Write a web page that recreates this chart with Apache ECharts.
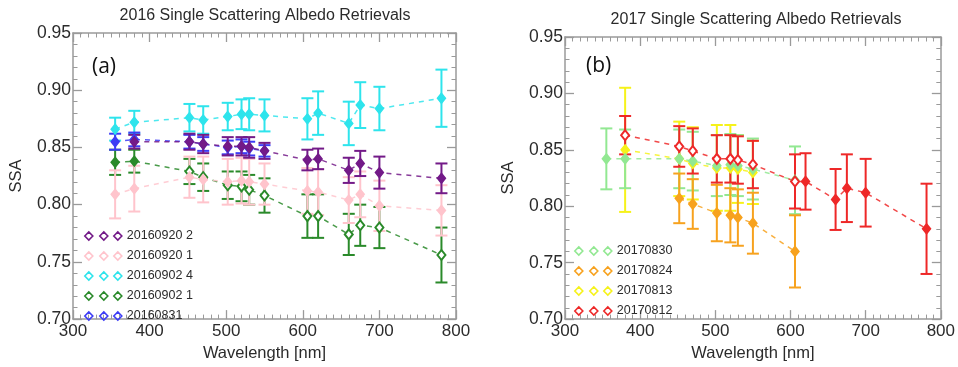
<!DOCTYPE html>
<html>
<head>
<meta charset="utf-8">
<script src="https://cdn.jsdelivr.net/npm/echarts@6/dist/echarts.min.js"></script>
<style>
  html, body { margin: 0; background: #fff; }
  #chart { width: 958px; height: 367px; }
</style>
</head>
<body>
<div id="chart"></div>
<script>
// wavelengths [nm]
const wl16_0920_2 = [380, 452, 470, 502, 520, 530, 550, 606, 620, 660, 675, 700, 781];
const wl16_all = [355, 380, 452, 470, 502, 520, 530, 550, 606, 620, 660, 675, 700, 781];
const wl16_0831 = [355, 380, 452, 470, 502, 520, 530, 550];
const wl17_0830 = [355, 380, 452, 470, 502, 520, 530, 550, 606];
const wl17_0824 = [452, 470, 502, 520, 530, 550, 606];
const wl17_0813 = [380, 452, 470, 502, 520, 530, 550];
const wl17_0812 = [380, 452, 470, 502, 520, 530, 550, 606, 620, 660, 675, 700, 781];

// 2016 SSA and +/- error
const ssa_0920_2 = [0.855, 0.855, 0.853, 0.851, 0.851, 0.850, 0.847, 0.839, 0.840, 0.830, 0.836, 0.828, 0.823];
const err_0920_2 = [0.006, 0.007, 0.008, 0.008, 0.008, 0.009, 0.007, 0.009, 0.009, 0.011, 0.011, 0.014, 0.013];
const ssa_0920_1 = [0.809, 0.814, 0.824, 0.822, 0.820, 0.821, 0.820, 0.818, 0.812, 0.811, 0.804, 0.809, 0.799, 0.795];
const err_0920_1 = [0.021, 0.020, 0.018, 0.020, 0.020, 0.020, 0.020, 0.018, 0.020, 0.020, 0.020, 0.020, 0.022, 0.022];
const ssa_0902_4 = [0.866, 0.872, 0.876, 0.874, 0.877, 0.879, 0.879, 0.878, 0.875, 0.880, 0.871, 0.887, 0.884, 0.893];
const err_0902_4 = [0.010, 0.010, 0.012, 0.012, 0.012, 0.013, 0.014, 0.014, 0.018, 0.019, 0.019, 0.020, 0.019, 0.025];
const ssa_0902_1 = [0.837, 0.838, 0.829, 0.824, 0.817, 0.816, 0.813, 0.808, 0.790, 0.790, 0.774, 0.782, 0.780, 0.756];
const err_0902_1 = [0.011, 0.010, 0.011, 0.012, 0.012, 0.013, 0.013, 0.015, 0.019, 0.019, 0.018, 0.018, 0.018, 0.024];
const ssa_0831 = [0.855, 0.857, 0.855, 0.853, 0.850, 0.851, 0.849, 0.847];
const err_0831 = [0.007, 0.006, 0.006, 0.006, 0.006, 0.006, 0.006, 0.005];

// 2017 SSA and +/- error
const ssa_0830 = [0.842, 0.842, 0.842, 0.840, 0.836, 0.837, 0.836, 0.833, 0.823];
const err_0830 = [0.027, 0.026, 0.026, 0.026, 0.027, 0.027, 0.027, 0.027, 0.030];
const ssa_0824 = [0.807, 0.802, 0.794, 0.792, 0.790, 0.785, 0.760];
const err_0824 = [0.022, 0.022, 0.025, 0.024, 0.025, 0.027, 0.032];
const ssa_0813 = [0.850, 0.842, 0.838, 0.834, 0.834, 0.833, 0.830];
const err_0813 = [0.055, 0.033, 0.032, 0.038, 0.038, 0.030, 0.028];
const ssa_0812 = [0.863, 0.853, 0.849, 0.842, 0.842, 0.841, 0.837, 0.822, 0.822, 0.806, 0.816, 0.812, 0.780];
const err_0812 = [0.017, 0.018, 0.020, 0.021, 0.021, 0.021, 0.021, 0.024, 0.025, 0.027, 0.030, 0.030, 0.040];

const xTicks = [300, 400, 500, 600, 700, 800];
const yTicks = [0.70, 0.75, 0.80, 0.85, 0.90, 0.95];

// drawing order = list order; legend order given separately
const sets = [
  { name: '20160902 1', panel: 0, wl: wl16_all, ssa: ssa_0902_1, err: err_0902_1, color: '#2a8a2a', hollow: w => w > 400 },
  { name: '20160920 1', panel: 0, wl: wl16_all, ssa: ssa_0920_1, err: err_0920_1, color: '#ffc4cc' },
  { name: '20160902 4', panel: 0, wl: wl16_all, ssa: ssa_0902_4, err: err_0902_4, color: '#2ee4ec' },
  { name: '20160831', panel: 0, wl: wl16_0831, ssa: ssa_0831, err: err_0831, color: '#3c3cf5' },
  { name: '20160920 2', panel: 0, wl: wl16_0920_2, ssa: ssa_0920_2, err: err_0920_2, color: '#731a88' },
  { name: '20170813', panel: 1, wl: wl17_0813, ssa: ssa_0813, err: err_0813, color: '#f6f21a' },
  { name: '20170830', panel: 1, wl: wl17_0830, ssa: ssa_0830, err: err_0830, color: '#92e892' },
  { name: '20170824', panel: 1, wl: wl17_0824, ssa: ssa_0824, err: err_0824, color: '#f7a21e' },
  { name: '20170812', panel: 1, wl: wl17_0812, ssa: ssa_0812, err: err_0812, color: '#ee2828', hollow: w => w < 610 }
];
const legend16 = ['20160920 2', '20160920 1', '20160902 4', '20160902 1', '20160831'];
const legend17 = ['20170830', '20170824', '20170813', '20170812'];

const FONT = 'Liberation Sans';
const FRAME = '#9a9a9a';
const INK = '#2b2b2b';
const threeDiamonds = 'path://M0,4L4,0L8,4L4,8Z M15,4L19,0L23,4L19,8Z M29,4L33,0L37,4L33,8Z';

function errorBar(params, api) {
  const x = api.value(0);
  const lo = api.coord([x, api.value(1)]);
  const hi = api.coord([x, api.value(2)]);
  const w = 6;
  const style = { stroke: api.visual('color'), lineWidth: 2 };
  return {
    type: 'group',
    children: [
      { type: 'line', shape: { x1: hi[0], y1: hi[1], x2: lo[0], y2: lo[1] }, style },
      { type: 'line', shape: { x1: hi[0] - w, y1: hi[1], x2: hi[0] + w, y2: hi[1] }, style },
      { type: 'line', shape: { x1: lo[0] - w, y1: lo[1], x2: lo[0] + w, y2: lo[1] }, style }
    ]
  };
}

function xAxisPair(gi) {
  const common = {
    gridIndex: gi, type: 'value', min: 300, max: 800, interval: 100,
    axisLine: { show: true, onZero: false, lineStyle: { color: FRAME, width: 1.5 } },
    axisTick: { inside: true, length: 9, lineStyle: { color: FRAME, width: 1.3 } },
    minorTick: { show: true, splitNumber: 10, length: 4.5, lineStyle: { color: FRAME, width: 1 } },
    splitLine: { show: false }
  };
  return [
    Object.assign({}, common, {
      position: 'bottom',
      name: 'Wavelength [nm]', nameLocation: 'middle', nameGap: 21,
      nameTextStyle: { fontSize: 16.5, color: INK, fontFamily: FONT },
      axisLabel: { fontSize: 17, color: INK, fontFamily: FONT, margin: 4,
        formatter: v => (xTicks.includes(v) ? String(v) : '') }
    }),
    Object.assign({}, common, { position: 'top', axisLabel: { show: false } })
  ];
}

function yAxisPair(gi) {
  const common = {
    gridIndex: gi, type: 'value', min: 0.70, max: 0.95, interval: 0.05,
    axisLine: { show: true, onZero: false, lineStyle: { color: FRAME, width: 1.5 } },
    axisTick: { inside: true, length: 9, lineStyle: { color: FRAME, width: 1.3 } },
    minorTick: { show: true, splitNumber: 5, length: 4.5, lineStyle: { color: FRAME, width: 1 } },
    splitLine: { show: false }
  };
  return [
    Object.assign({}, common, {
      position: 'left',
      name: 'SSA', nameLocation: 'middle', nameGap: 48,
      nameTextStyle: { fontSize: 16.5, color: INK, fontFamily: FONT },
      axisLabel: { fontSize: 17.5, color: INK, fontFamily: FONT, margin: 2,
        formatter: v => yTicks.find(t => Math.abs(t - v) < 1e-6).toFixed(2) }
    }),
    Object.assign({}, common, { position: 'right', axisLabel: { show: false } })
  ];
}

const series = [];
sets.forEach(s => {
  const xi = s.panel * 2, yi = s.panel * 2;
  series.push({
    name: s.name + ' err', type: 'custom', xAxisIndex: xi, yAxisIndex: yi,
    renderItem: errorBar, itemStyle: { color: s.color }, z: 2, silent: true,
    data: s.wl.map((w, i) => [w, s.ssa[i] - s.err[i], s.ssa[i] + s.err[i]])
  });
});
sets.forEach(s => {
  const xi = s.panel * 2, yi = s.panel * 2;
  series.push({
    name: s.name + ' line', type: 'line', xAxisIndex: xi, yAxisIndex: yi, z: 3,
    symbol: 'none',
    lineStyle: { color: s.color, width: 1.5, type: [5, 5], opacity: 0.85 },
    data: s.wl.map((w, i) => [w, s.ssa[i]])
  });
});
sets.forEach(s => {
  const xi = s.panel * 2, yi = s.panel * 2;
  series.push({
    name: s.name, type: 'scatter', xAxisIndex: xi, yAxisIndex: yi, z: 4,
    symbol: v => (s.hollow && s.hollow(v[0]) ? 'emptyDiamond' : 'diamond'),
    symbolSize: [8, 10],
    itemStyle: { color: s.color, borderColor: s.color, borderWidth: 1.5, opacity: 1 },
    data: s.wl.map((w, i) => [w, s.ssa[i]])
  });
});

function legendData(names) {
  return names.map(n => {
    const c = sets.find(s => s.name === n).color;
    return { name: n, itemStyle: { color: 'rgba(0,0,0,0)', borderColor: c, borderWidth: 1.6 } };
  });
}

const legendCommon = {
  orient: 'vertical', icon: threeDiamonds, itemWidth: 37, itemHeight: 8, itemGap: 6,
  padding: 0, selectedMode: false,
  textStyle: { fontSize: 12.5, color: INK, fontFamily: FONT, lineHeight: 14 }
};

const option = {
  animation: false,
  backgroundColor: '#fff',
  grid: [
    { left: 73, top: 33, width: 383, height: 295 },
    { left: 565, top: 37, width: 381, height: 293 }
  ],
  xAxis: [...xAxisPair(0), ...xAxisPair(1)],
  yAxis: [...yAxisPair(0), ...yAxisPair(1)],
  legend: [
    Object.assign({}, legendCommon, { left: 84, top: 229, data: legendData(legend16) }),
    Object.assign({}, legendCommon, { left: 574, top: 244, data: legendData(legend17) })
  ],
  graphic: [
    { type: 'text', x: 265, y: 16, style: { text: '2016 Single Scattering Albedo Retrievals', font: '16px "Liberation Sans"', fill: INK, textAlign: 'center', textVerticalAlign: 'middle' } },
    { type: 'text', x: 756, y: 20, style: { text: '2017 Single Scattering Albedo Retrievals', font: '16px "Liberation Sans"', fill: INK, textAlign: 'center', textVerticalAlign: 'middle' } },
    { type: 'text', x: 92, y: 67, style: { text: '(a)', font: '21px "Open Sans"', fill: '#111', textAlign: 'left', textVerticalAlign: 'middle' } },
    { type: 'text', x: 586, y: 66, style: { text: '(b)', font: '21px "Open Sans"', fill: '#111', textAlign: 'left', textVerticalAlign: 'middle' } }
  ],
  series
};

const chart = echarts.init(document.getElementById('chart'), null, { renderer: 'canvas' });
chart.setOption(option);
</script>
</body>
</html>
